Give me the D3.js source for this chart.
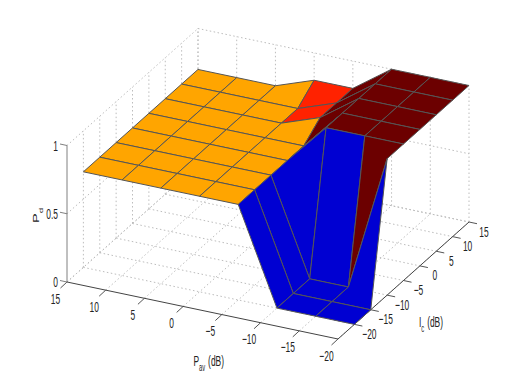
<!DOCTYPE html>
<html>
<head>
<meta charset="utf-8">
<script src="https://cdn.jsdelivr.net/npm/d3@7"></script>
<style>
body { margin: 0; background: #fff; }
text { font-family: "Liberation Sans", sans-serif; fill: #222; }
</style>
</head>
<body>
<div id="chart-container"></div>
<script>
const pavTicks = [15, 10, 5, 0, -5, -10, -15, -20];
const icTicks = [-20, -15, -10, -5, 0, 5, 10, 15];
const pdTicks = [0, 0.5, 1];

// Pd along Ic = -20 ... 15, one array per Pav value
const pdAt15 = [0.7, 0.7, 0.7, 0.7, 0.7, 0.7, 0.7, 0.7];
const pdAt10 = [0.7, 0.7, 0.7, 0.7, 0.7, 0.7, 0.7, 0.7];
const pdAt5 = [0.7, 0.7, 0.7, 0.7, 0.7, 0.7, 0.7, 0.7];
const pdAt0 = [0.7, 0.7, 0.7, 0.7, 0.7, 0.7, 0.7, 0.8];
const pdAtM5 = [0.7, 0.7, 0.7, 0.7, 0.7, 0.8, 0.8, 0.8];
const pdAtM10 = [0, 0, 0, 1, 1, 1, 1, 1];
const pdAtM15 = [0, 0, 0, 1, 1, 1, 1, 1];
const pdAtM20 = [0, 0, 1, 1, 1, 1, 1, 1];
const pd = [pdAt15, pdAt10, pdAt5, pdAt0, pdAtM5, pdAtM10, pdAtM15, pdAtM20];

const width = 518;
const height = 382;

const svg = d3.select("#chart-container")
    .append("svg")
    .attr("width", width)
    .attr("height", height)
    .style("display", "block");

const u = d3.scaleLinear().domain([15, -20]).range([0, 1]);
const v = d3.scaleLinear().domain([-25, 15]).range([0, 1]);
const w = d3.scaleLinear().domain([0, 1]).range([0, 1]);

// orthographic view, corner pixels
function project(pav, ic, z) {
    return [
        67 + 271 * u(pav) + 131 * v(ic),
        282 + 57 * u(pav) - 117 * v(ic) - 136.5 * w(z)
    ];
}

const color = d3.scaleLinear()
    .domain([0, 0.69, 0.7, 0.8, 0.81, 1])
    .range(["#0000d2", "#0000d2", "#ffa500", "#ff2200", "#6c0000", "#6c0000"]);

const line = d3.line();

function seg(a, b, stroke, dash) {
    return svg.append("path")
        .attr("d", line([a, b]))
        .attr("fill", "none")
        .attr("stroke", stroke)
        .attr("stroke-width", 1)
        .attr("stroke-dasharray", dash || null);
}

const icMin = v.domain()[0];
const icMax = v.domain()[1];
const gridColor = "#bdbdbd";
const dots = "1.5,2.5";

// floor, back wall and left wall
pavTicks.forEach(p => {
    seg(project(p, icMin, 0), project(p, icMax, 0), gridColor, dots);
    seg(project(p, icMax, 0), project(p, icMax, 1), gridColor, dots);
});
icTicks.forEach(c => {
    seg(project(15, c, 0), project(-20, c, 0), gridColor, dots);
    seg(project(15, c, 0), project(15, c, 1), gridColor, dots);
});
pdTicks.forEach(z => {
    seg(project(15, icMin, z), project(15, icMax, z), gridColor, dots);
    seg(project(15, icMax, z), project(-20, icMax, z), gridColor, dots);
});

// axes and tick marks
seg(project(15, icMin, 0), project(15, icMin, 1), "#808080");
seg(project(15, icMin, 0), project(-20, icMin, 0), "#444");
seg(project(-20, icMin, 0), project(-20, icMax, 0), "#444");
pavTicks.forEach(p => {
    const [x, y] = project(p, icMin, 0);
    seg([x, y], [x - 6.5, y + 6], "#555");
});
icTicks.forEach(c => {
    const [x, y] = project(-20, c, 0);
    seg([x, y], [x + 8, y + 1.7], "#555");
});
pdTicks.forEach(z => {
    const [x, y] = project(15, icMin, z);
    seg([x, y], [x - 7, y - 1.5], "#808080");
});

// surface cells, far ones first so the near ones cover them
const cells = [];
d3.range(pavTicks.length - 1).forEach(i => {
    d3.range(icTicks.length - 1).forEach(j => {
        cells.push({
            points: [
                project(pavTicks[i], icTicks[j], pd[i][j]),
                project(pavTicks[i + 1], icTicks[j], pd[i + 1][j]),
                project(pavTicks[i + 1], icTicks[j + 1], pd[i + 1][j + 1]),
                project(pavTicks[i], icTicks[j + 1], pd[i][j + 1])
            ],
            value: pd[i + 1][j],
            depth: project(pavTicks[i], icTicks[j], 0)[1] + project(pavTicks[i + 1], icTicks[j + 1], 0)[1]
        });
    });
});
cells.sort((a, b) => d3.ascending(a.depth, b.depth));

svg.append("g")
    .selectAll("path")
    .data(cells)
    .enter()
    .append("path")
    .attr("d", d => line(d.points) + "Z")
    .attr("fill", d => color(d.value))
    .attr("stroke", "#555")
    .attr("stroke-width", 1)
    .attr("stroke-linejoin", "round");

// the text in the picture is tall and narrow
const squeeze = 0.58;

function label(x, y, str, anchor) {
    return svg.append("text")
        .attr("transform", `translate(${x},${y}) scale(${squeeze},1)`)
        .attr("text-anchor", anchor || "middle")
        .style("font-size", "14.5px")
        .text(str);
}
const fmt = t => String(t).replace("-", "\u2212");

pavTicks.forEach(p => {
    const [x, y] = project(p, icMin, 0);
    label(x - 11.5, y + 21.5, fmt(p));
});
icTicks.forEach(c => {
    const [x, y] = project(-20, c, 0);
    label(x + 15, y + 14.5, fmt(c));
});
pdTicks.forEach(z => {
    const [x, y] = project(15, icMin, z);
    label(x - 9, y + 5, fmt(z), "end");
});

function axisTitle(x, y, main, sub, rest, rotate, subDrop) {
    const t = svg.append("text")
        .attr("transform", `translate(${x},${y}) scale(${squeeze},1) rotate(${rotate})`)
        .style("font-size", "14.5px");
    t.append("tspan").text(main);
    t.append("tspan").attr("dy", subDrop).style("font-size", "10px").text(sub);
    if (rest) t.append("tspan").attr("dy", -subDrop).attr("dx", 5).text(rest);
}
axisTitle(193.5, 366, "P", "av", "(dB)", 0, 5);
axisTitle(419, 327, "I", "c", "(dB)", 0, 5);
axisTitle(38.5, 223, "P", "d", "", -90, 7);
</script>
</body>
</html>
